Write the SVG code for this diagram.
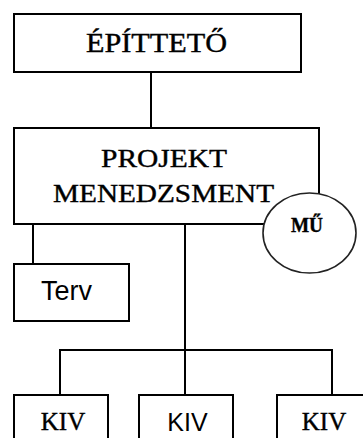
<svg xmlns="http://www.w3.org/2000/svg" width="363" height="438" viewBox="0 0 363 438">
<style>
.box{fill:#fff;stroke:#000;stroke-width:2}
.ln{stroke:#000;stroke-width:2;fill:none}
.serif{font-family:"Liberation Serif","Times New Roman",serif;fill:#000;stroke:#000;stroke-width:0.4;text-anchor:middle}
.sans{font-family:"Liberation Sans",Arial,sans-serif;fill:#000}
</style>
<rect width="363" height="438" fill="#fff"/>
<g id="connectors">
<line class="ln" x1="151" y1="72" x2="151" y2="128"/>
<line class="ln" x1="33" y1="224" x2="33" y2="264"/>
<line class="ln" x1="185" y1="224" x2="185" y2="395"/>
<line class="ln" x1="59" y1="350" x2="333" y2="350"/>
<line class="ln" x1="60" y1="350" x2="60" y2="395"/>
<line class="ln" x1="332" y1="350" x2="332" y2="395"/>
</g>
<g id="epitteto">
<rect class="box" x="14" y="14" width="287" height="58"/>
<text class="serif" x="156.5" y="52" font-size="27" textLength="141" lengthAdjust="spacingAndGlyphs">ÉPÍTTETŐ</text>
</g>
<g id="projekt">
<rect class="box" x="14" y="128" width="305" height="96"/>
<text class="serif" x="164" y="167" font-size="26" textLength="126" lengthAdjust="spacingAndGlyphs">PROJEKT</text>
<text class="serif" x="163.5" y="202" font-size="26" textLength="221" lengthAdjust="spacingAndGlyphs">MENEDZSMENT</text>
</g>
<g id="mu">
<ellipse cx="309.5" cy="233" rx="46.5" ry="40" fill="#fff" stroke="#222" stroke-width="1.6"/>
<text class="serif" x="307" y="232" font-size="21" font-weight="bold" stroke-width="0.8" textLength="32" lengthAdjust="spacingAndGlyphs">MŰ</text>
</g>
<g id="terv">
<rect class="box" x="14" y="264" width="115" height="57"/>
<text class="sans" x="41" y="300" font-size="27">Terv</text>
</g>
<g id="kiv1">
<rect class="box" x="14" y="395" width="94" height="60"/>
<text class="serif" x="63" y="430" font-size="25">KIV</text>
</g>
<g id="kiv2">
<rect class="box" x="139" y="395" width="94" height="60"/>
<text class="sans" x="187.5" y="431" font-size="25" text-anchor="middle">KIV</text>
</g>
<g id="kiv3">
<rect class="box" x="277" y="395" width="100" height="60"/>
<text class="serif" x="324" y="430" font-size="25">KIV</text>
</g>
</svg>
